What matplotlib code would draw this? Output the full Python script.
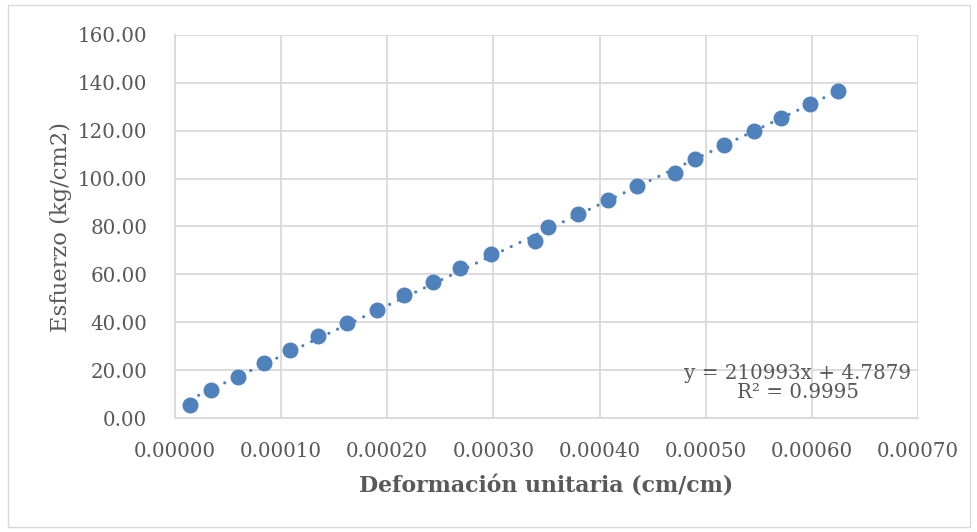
import numpy as np
import matplotlib
matplotlib.use("Agg")
import matplotlib.pyplot as plt
from matplotlib.patches import Rectangle

plt.rcParams["font.family"] = ["DejaVu Serif"]

# ---- data ----
strain = [0.0000141, 0.0000339, 0.0000590, 0.0000842, 0.0001085, 0.0001348,
          0.0001618, 0.0001906, 0.0002158, 0.0002432, 0.0002686, 0.0002975,
          0.0003392, 0.0003515, 0.0003795, 0.0004083, 0.0004351, 0.0004713,
          0.0004901, 0.0005168, 0.0005457, 0.0005709, 0.0005985, 0.0006249]
stress = [5.6, 11.5, 17.1, 22.8, 28.4, 34.3, 39.6, 45.3, 51.2, 56.9, 62.7, 68.4,
          74.0, 79.7, 85.4, 91.1, 96.8, 102.5, 108.4, 113.9, 119.7, 125.3, 131.0, 136.6]
SLOPE, INTERCEPT, R2 = 210993, 4.7879, 0.9995
x_ticks = np.arange(0, 0.00071, 0.0001)
y_ticks = np.arange(0, 161, 20)

BLUE = "#4F81BD"
GRID = "#D9D9D9"
TXT = "#595959"
FS = 14.3

fig = plt.figure(figsize=(9.78, 5.32), dpi=100)
fig.patches.append(Rectangle((8 / 978, 5 / 532), 962 / 978, 522 / 532, transform=fig.transFigure,
                             fill=False, edgecolor=GRID, lw=1.0))
ax = fig.add_axes([175 / 978, 1 - 418 / 532, 743 / 978, 383 / 532])

x = np.asarray(strain)
xs = np.array([x.min(), x.max()])
ax.plot(xs, SLOPE * xs + INTERCEPT, color=BLUE, lw=2.3, ls=(0, (0.01, 3.0)),
        dash_capstyle="round", zorder=3)
ax.plot(strain, stress, ls="none", marker="o", ms=10.5, color=BLUE, mec=BLUE, zorder=4)

ax.set_xlim(0, 0.0007)
ax.set_ylim(0, 160)
ax.set_xticks(x_ticks)
ax.set_yticks(y_ticks)
ax.set_xticklabels([f"{v:.5f}" for v in x_ticks])
ax.set_yticklabels([f"{v:.2f}" for v in y_ticks])
ax.tick_params(axis="y", length=0, labelsize=FS, labelcolor=TXT, pad=20)
ax.tick_params(axis="x", length=0, labelsize=FS, labelcolor=TXT, pad=17)
ax.grid(True, color=GRID, lw=1.3)
ax.set_axisbelow(True)
for sp in ("top", "right"):
    ax.spines[sp].set_visible(False)
for sp in ("left", "bottom"):
    ax.spines[sp].set_color(GRID)
    ax.spines[sp].set_linewidth(1.3)

ax.set_ylabel("Esfuerzo (kg/cm2)", fontsize=16.3, color=TXT, labelpad=4)
ax.set_xlabel("Deformación unitaria (cm/cm)", fontsize=15.8, color=TXT, fontweight="bold",
              labelpad=11)

ax.text(798 / 978, 1 - 383 / 532, f"y = {SLOPE}x + {INTERCEPT}\nR² = {R2}",
        transform=fig.transFigure, ha="center", va="center", fontsize=FS, color=TXT,
        linespacing=1.05)

fig.savefig("out.png", dpi=100)
